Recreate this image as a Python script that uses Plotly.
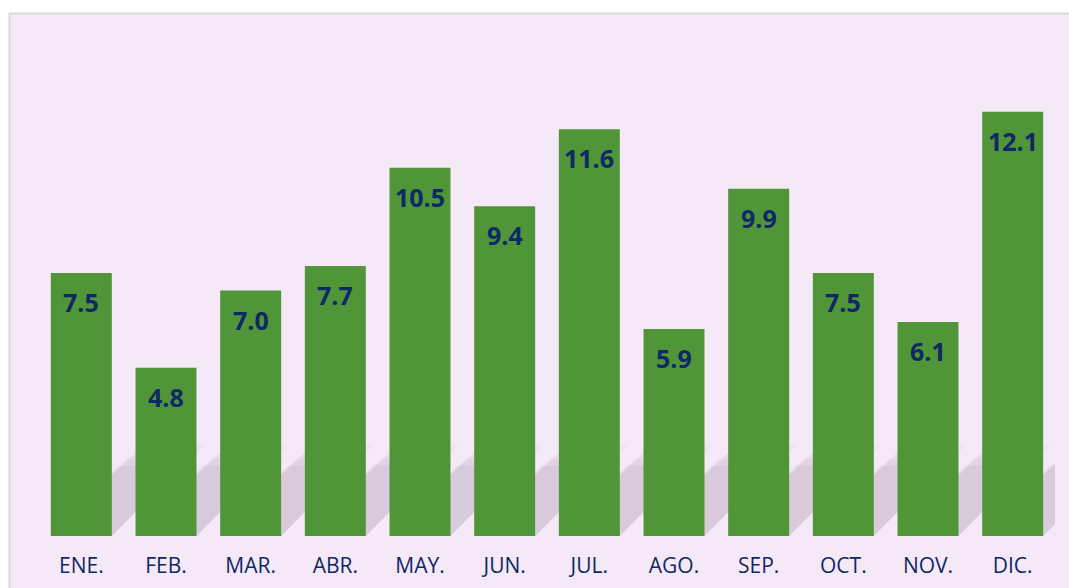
import plotly.graph_objects as go

# monthly values
months = ["ENE.", "FEB.", "MAR.", "ABR.", "MAY.", "JUN.",
          "JUL.", "AGO.", "SEP.", "OCT.", "NOV.", "DIC."]
values = [7.5, 4.8, 7.0, 7.7, 10.5, 9.4, 11.6, 5.9, 9.9, 7.5, 6.1, 12.1]

x = list(range(len(months)))

navy = "#0f2866"
bar_green = "#509537"
lavender = "#f5e9f7"

fig = go.Figure()
fig.add_trace(go.Bar(x=x, y=values, marker_color=bar_green,
                     marker_line_width=0, hoverinfo="x+y"))

# soft floor shadows behind each bar (layers fake the blur)
half = 0.36
shapes = []
for xi in x:
    for dx, h, alpha in [(1.1, 2.6, 0.035), (1.0, 2.4, 0.05), (0.9, 2.2, 0.06),
                         (0.8, 2.0, 0.07)]:
        path = (f"M {xi - half},0 L {xi + half},0 "
                f"L {xi + half + dx},{h} L {xi - half + dx},{h} Z")
        shapes.append(dict(type="path", path=path, xref="x", yref="y",
                           fillcolor=f"rgba(110,80,115,{alpha})",
                           line_width=0, layer="below"))

# lavender panel with gray border at top/left
W, H = 1069, 588
ml, mr, mt, mb = 39, 14, 15, 52
pw, ph = W - ml - mr, H - mt - mb
shapes.append(dict(type="rect", xref="paper", yref="paper",
                   x0=(9.5 - ml) / pw, x1=(W + 10 - ml) / pw,
                   y0=-(mb + 10) / ph, y1=(H - mb - 13.5) / ph,
                   fillcolor=lavender, line=dict(color="#d9d9d9", width=2),
                   layer="below"))

annotations = [dict(x=xi, y=v, text=f"{v:.1f}", showarrow=False,
                    yanchor="top", yshift=-10,
                    font=dict(family="Open Sans", size=25, color=navy, weight="bold"))
               for xi, v in zip(x, values)]

fig.update_layout(
    width=W, height=H,
    margin=dict(l=ml, r=mr, t=mt, b=mb),
    paper_bgcolor="white",
    plot_bgcolor="rgba(0,0,0,0)",
    bargap=0.28,
    showlegend=False,
    shapes=shapes,
    annotations=annotations,
    xaxis=dict(tickvals=x, ticktext=months, range=[-0.5, 11.5],
               showgrid=False, zeroline=False, showline=False,
               ticks="", ticklabelstandoff=15, automargin=False,
               tickfont=dict(family="Open Sans", size=21, color=navy)),
    yaxis=dict(range=[0, ph / 35.07], showgrid=False, zeroline=False,
               showline=False, showticklabels=False, ticks="",
               automargin=False),
)

fig.write_html("out.html", config={"displayModeBar": False},
               post_script="document.body.style.margin='0px';")
